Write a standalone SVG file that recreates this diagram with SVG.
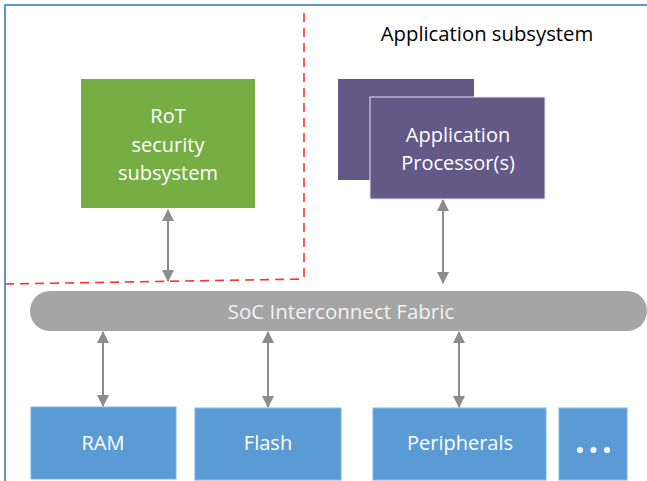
<svg xmlns="http://www.w3.org/2000/svg" width="647" height="481" viewBox="0 0 647 481">
  <defs>
    <marker id="ah" viewBox="0 0 12 12" refX="11" refY="6" markerWidth="12" markerHeight="12" markerUnits="userSpaceOnUse" orient="auto-start-reverse">
      <path d="M0,0 L12,6 L0,12 Z" fill="#8C8C8C"/>
    </marker>
    <style>
      .lbl { font-family: "Open Sans", "Liberation Sans", sans-serif; font-size: 20px; fill: #FFFFFF; text-anchor: middle; }
      .title { font-family: "Open Sans", "Liberation Sans", sans-serif; font-size: 20.3px; fill: #000000; text-anchor: middle; }
      .bus { font-family: "Open Sans", "Liberation Sans", sans-serif; font-size: 20.5px; fill: #F2F2F2; text-anchor: middle; }
      .mem { fill: #5B9BD5; stroke: #7FB2E0; stroke-width: 1; }
      .cpu { fill: #635986; }
      .link { stroke: #8C8C8C; stroke-width: 2; fill: none; marker-start: url(#ah); marker-end: url(#ah); }
      .zone { stroke: #FF3333; stroke-width: 1.6; stroke-dasharray: 9 6; fill: none; }
    </style>
  </defs>

  <rect width="647" height="481" fill="#FFFFFF"/>
  <!-- chip outline -->
  <rect x="5" y="5" width="700" height="540" fill="none" stroke="#2E75B6" stroke-width="1.5"/>

  <!-- security boundary -->
  <g id="boundary">
    <path class="zone" d="M304,13 L304,283"/>
    <path class="zone" d="M5,284 L304,279"/>
  </g>

  <text class="title" x="487" y="41">Application subsystem</text>

  <g id="rot">
    <rect x="81" y="79" width="174" height="129" fill="#76AE44"/>
    <text class="lbl" x="168" y="123">RoT</text>
    <text class="lbl" x="168" y="152">security</text>
    <text class="lbl" x="168" y="180">subsystem</text>
  </g>

  <g id="app">
    <rect class="cpu" x="338" y="79" width="136" height="101"/>
    <rect class="cpu" x="370" y="97" width="175" height="102" stroke="#E6E3EE" stroke-width="1"/>
    <text class="lbl" x="458" y="142">Application</text>
    <text class="lbl" x="458" y="170">Processor(s)</text>
  </g>

  <g id="fabric">
    <rect x="30" y="291" width="617" height="40" rx="20" ry="20" fill="#A5A5A5"/>
    <text class="bus" x="341" y="318.5">SoC Interconnect Fabric</text>
  </g>

  <g id="ram">
    <rect class="mem" x="31" y="407" width="145" height="72"/>
    <text class="lbl" x="103" y="450">RAM</text>
  </g>
  <g id="flash">
    <rect class="mem" x="195" y="408" width="146" height="72"/>
    <text class="lbl" x="268" y="450">Flash</text>
  </g>
  <g id="peripherals">
    <rect class="mem" x="373" y="408" width="173" height="72"/>
    <text class="lbl" x="460" y="450">Peripherals</text>
  </g>
  <g id="more">
    <rect class="mem" x="559" y="408" width="68" height="72"/>
    <circle cx="580" cy="450" r="3" fill="#FFFFFF"/>
    <circle cx="593.5" cy="450" r="3" fill="#FFFFFF"/>
    <circle cx="607" cy="450" r="3" fill="#FFFFFF"/>
  </g>

  <g id="connectors">
    <line class="link" x1="168" y1="210" x2="168" y2="281"/>
    <line class="link" x1="443" y1="200" x2="443" y2="283"/>
    <line class="link" x1="103" y1="332" x2="103" y2="406"/>
    <line class="link" x1="268" y1="332" x2="268" y2="407"/>
    <line class="link" x1="459" y1="332" x2="459" y2="407"/>
  </g>
</svg>
